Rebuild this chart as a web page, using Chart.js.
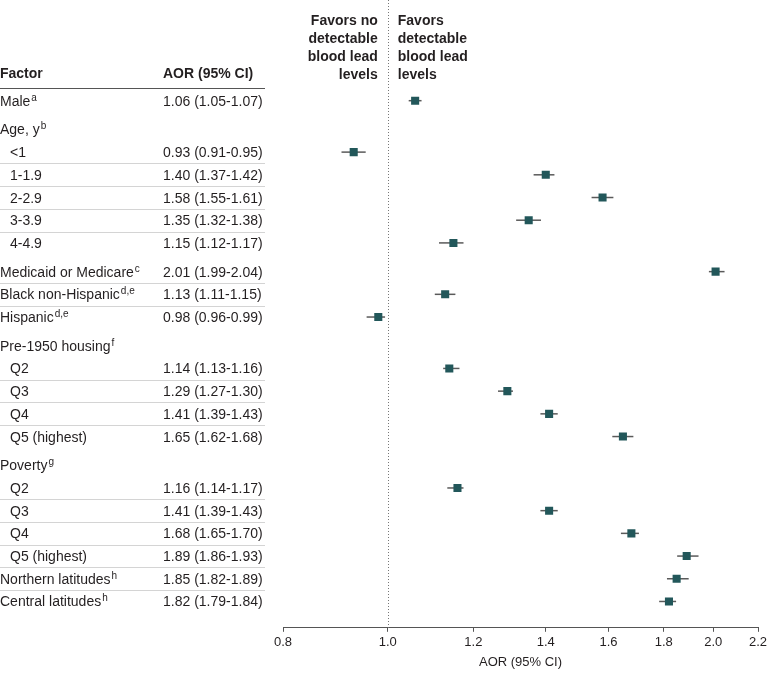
<!DOCTYPE html>
<html>
<head>
<meta charset="utf-8">
<script src="https://cdn.jsdelivr.net/npm/chart.js@4.4.1/dist/chart.umd.min.js"></script>
<style>
  html, body { margin: 0; padding: 0; background: #fff; }
  #wrap { width: 783px; height: 676px; position: relative; }
</style>
</head>
<body>
<div id="wrap"><canvas id="c" width="783" height="676"></canvas></div>
<script>
// ---- Data ----
const factors = ['Male', 'Age, y', '<1', '1-1.9', '2-2.9', '3-3.9', '4-4.9',
  'Medicaid or Medicare', 'Black non-Hispanic', 'Hispanic', 'Pre-1950 housing',
  'Q2', 'Q3', 'Q4', 'Q5 (highest)', 'Poverty', 'Q2', 'Q3', 'Q4', 'Q5 (highest)',
  'Northern latitudes', 'Central latitudes'];
const notes = ['a', 'b', '', '', '', '', '', 'c', 'd,e', 'd,e', 'f', '', '', '', '', 'g', '', '', '', '', 'h', 'h'];
const level = [0, 0, 1, 1, 1, 1, 1, 0, 0, 0, 0, 1, 1, 1, 1, 0, 1, 1, 1, 1, 0, 0];
const section = [0, 1, 1, 1, 1, 1, 1, 2, 2, 2, 3, 3, 3, 3, 3, 4, 4, 4, 4, 4, 4, 4];
const aor = [1.06, null, 0.93, 1.40, 1.58, 1.35, 1.15, 2.01, 1.13, 0.98, null, 1.14, 1.29, 1.41, 1.65, null, 1.16, 1.41, 1.68, 1.89, 1.85, 1.82];
const ciLow = [1.05, null, 0.91, 1.37, 1.55, 1.32, 1.12, 1.99, 1.11, 0.96, null, 1.13, 1.27, 1.39, 1.62, null, 1.14, 1.39, 1.65, 1.86, 1.82, 1.79];
const ciHigh = [1.07, null, 0.95, 1.42, 1.61, 1.38, 1.17, 2.04, 1.15, 0.99, null, 1.16, 1.30, 1.43, 1.68, null, 1.17, 1.43, 1.70, 1.93, 1.89, 1.84];
const xTicks = [0.8, 1.0, 1.2, 1.4, 1.6, 1.8, 2.0, 2.2];
const leftHeader = ['Favors no', 'detectable', 'blood lead', 'levels'];
const rightHeader = ['Favors', 'detectable', 'blood lead', 'levels'];

const FONT = "'Liberation Sans', Arial, sans-serif";
const TEXT = '#231f20';
const MARK = '#22575a';
const SECTION_GAP = 0.265; // extra spacing between sections, in row units

const rowPos = factors.map((f, i) => i + SECTION_GAP * section[i]);
const dividerAbove = [];
for (let i = 1; i < factors.length; i++) {
  if (section[i] === section[i - 1] && aor[i - 1] != null && aor[i] != null) dividerAbove.push(i);
}

const points = [];
aor.forEach((v, i) => { if (v != null) points.push({ x: v, y: rowPos[i], lo: ciLow[i], hi: ciHigh[i] }); });

const forestPlugin = {
  id: 'forest',
  beforeDatasetsDraw(chart) {
    const ctx = chart.ctx, xs = chart.scales.x, ys = chart.scales.y;
    const area = chart.chartArea;
    const x1 = xs.getPixelForValue(1.0);
    ctx.save();
    ctx.strokeStyle = '#777';
    ctx.lineWidth = 1;
    ctx.setLineDash([1, 2]);
    ctx.beginPath();
    ctx.moveTo(Math.round(x1) + 0.5, 0);
    ctx.lineTo(Math.round(x1) + 0.5, area.bottom);
    ctx.stroke();
    ctx.setLineDash([]);
    ctx.strokeStyle = '#5a5a5a';
    ctx.lineWidth = 1.5;
    points.forEach(p => {
      const y = ys.getPixelForValue(p.y);
      ctx.beginPath();
      ctx.moveTo(xs.getPixelForValue(p.lo) - 2, y);
      ctx.lineTo(xs.getPixelForValue(p.hi) + 2, y);
      ctx.stroke();
    });
    ctx.restore();
  },
  afterDraw(chart) {
    const ctx = chart.ctx, xs = chart.scales.x, ys = chart.scales.y;
    const x1 = xs.getPixelForValue(1.0);
    ctx.save();
    ctx.fillStyle = TEXT;
    ctx.textBaseline = 'alphabetic';
    ctx.font = 'bold 14px ' + FONT;
    leftHeader.forEach((t, k) => {
      ctx.textAlign = 'right';
      ctx.fillText(t, x1 - 10, 25 + k * 18);
    });
    rightHeader.forEach((t, k) => {
      ctx.textAlign = 'left';
      ctx.fillText(t, x1 + 10, 25 + k * 18);
    });
    ctx.textAlign = 'left';
    ctx.fillText('Factor', 0, 78);
    ctx.fillText('AOR (95% CI)', 163, 78);
    ctx.strokeStyle = '#555';
    ctx.lineWidth = 1;
    ctx.beginPath();
    ctx.moveTo(0, 88.5);
    ctx.lineTo(265, 88.5);
    ctx.stroke();
    ctx.strokeStyle = '#d4d4d4';
    dividerAbove.forEach(i => {
      const y = Math.round((ys.getPixelForValue(rowPos[i]) + ys.getPixelForValue(rowPos[i - 1])) / 2) + 0.5;
      ctx.beginPath();
      ctx.moveTo(0, y);
      ctx.lineTo(265, y);
      ctx.stroke();
    });
    factors.forEach((f, i) => {
      const y = ys.getPixelForValue(rowPos[i]) + 5;
      const x = level[i] ? 10 : 0;
      ctx.font = '14px ' + FONT;
      ctx.fillText(f, x, y);
      if (notes[i]) {
        const w = ctx.measureText(f).width;
        ctx.font = '10px ' + FONT;
        ctx.fillText(notes[i], x + w + 1, y - 5);
      }
      if (aor[i] != null) {
        ctx.font = '14px ' + FONT;
        ctx.fillText(aor[i].toFixed(2) + ' (' + ciLow[i].toFixed(2) + '-' + ciHigh[i].toFixed(2) + ')', 163, y);
      }
    });
    ctx.restore();
  }
};

new Chart(document.getElementById('c'), {
  type: 'scatter',
  data: {
    datasets: [{
      data: points,
      pointStyle: 'rect',
      pointRadius: 5.7,
      pointHoverRadius: 5.7,
      backgroundColor: MARK,
      borderColor: MARK,
      borderWidth: 0
    }]
  },
  options: {
    responsive: false,
    animation: false,
    events: [],
    layout: { padding: { left: 283, right: 25, top: 89, bottom: 2 } },
    plugins: { legend: { display: false }, tooltip: { enabled: false } },
    scales: {
      x: {
        type: 'logarithmic',
        min: 0.8,
        max: 2.2,
        afterBuildTicks(scale) { scale.ticks = xTicks.map(v => ({ value: v })); },
        ticks: {
          callback: v => Number(v).toFixed(1),
          font: { family: FONT, size: 13 },
          color: TEXT,
          padding: 3,
          maxRotation: 0,
          autoSkip: false
        },
        grid: { drawOnChartArea: false, drawTicks: true, tickLength: 4, color: '#555' },
        border: { display: true, color: '#555', width: 1 },
        title: { display: true, text: 'AOR (95% CI)', font: { family: FONT, size: 13 }, color: TEXT, padding: { top: 1, bottom: 4 } }
      },
      y: {
        type: 'linear',
        reverse: true,
        min: -0.515,
        max: 23.22,
        display: false
      }
    }
  },
  plugins: [forestPlugin]
});
</script>
</body>
</html>
